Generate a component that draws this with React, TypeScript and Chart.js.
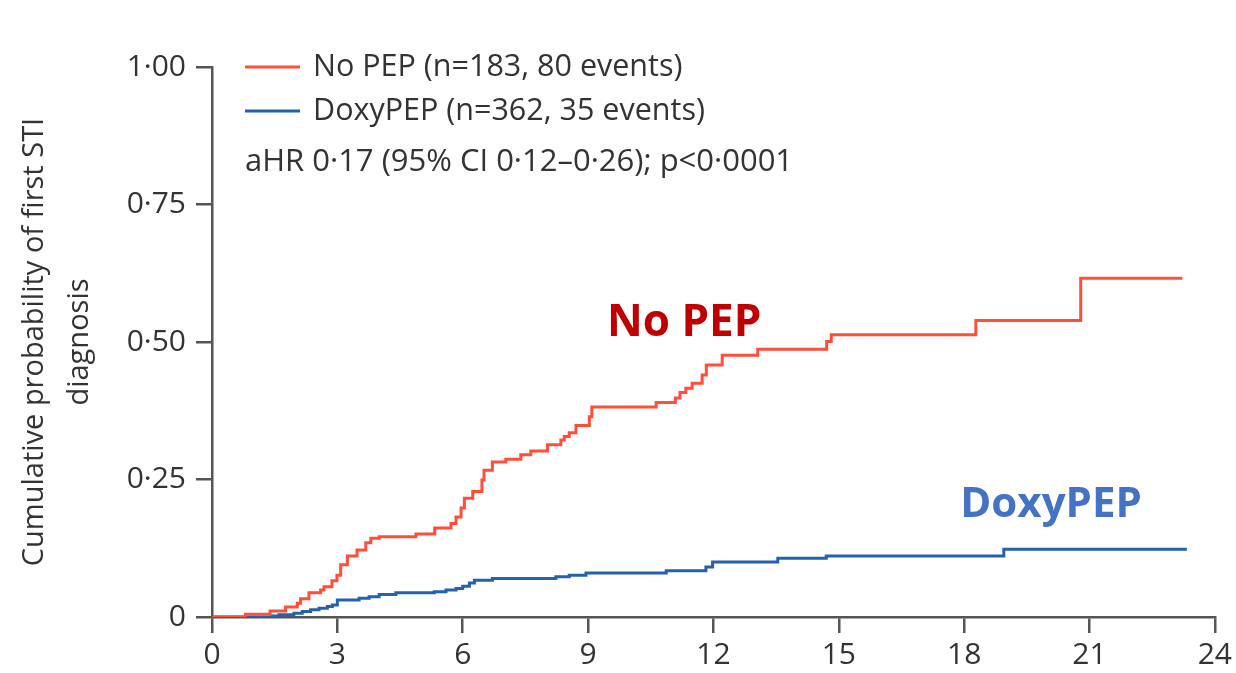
import React, { useEffect, useRef } from "react";
import { Chart, registerables } from "chart.js";

Chart.register(...registerables);

// ---- Data ----
const noPepTimes = [0, 0.8, 1.39, 1.76, 2.04, 2.12, 2.32, 2.6, 2.68, 2.87, 2.99, 3.08, 3.24, 3.47, 3.68, 3.8, 4.0, 4.88, 5.33, 5.72, 5.84, 5.96, 6.04, 6.24, 6.46, 6.51, 6.71, 7.03, 7.39, 7.63, 8.03, 8.35, 8.43, 8.55, 8.71, 9.03, 9.09, 10.63, 11.09, 11.2, 11.34, 11.49, 11.73, 11.83, 12.21, 13.06, 14.71, 14.82, 18.28, 20.79, 23.22];
const noPepValues = [0, 0.005, 0.011, 0.018, 0.025, 0.033, 0.044, 0.049, 0.055, 0.066, 0.076, 0.095, 0.111, 0.122, 0.135, 0.143, 0.146, 0.151, 0.162, 0.17, 0.182, 0.198, 0.216, 0.228, 0.249, 0.267, 0.282, 0.287, 0.295, 0.302, 0.313, 0.322, 0.328, 0.335, 0.348, 0.364, 0.382, 0.39, 0.398, 0.408, 0.416, 0.425, 0.44, 0.458, 0.476, 0.487, 0.501, 0.513, 0.539, 0.616, 0.616];

const doxyTimes = [0, 1.44, 1.6, 1.96, 2.16, 2.36, 2.56, 2.76, 2.88, 3.0, 3.52, 3.76, 4.0, 4.4, 5.32, 5.6, 5.84, 6.0, 6.16, 6.28, 6.71, 8.23, 8.55, 8.95, 10.87, 11.82, 11.98, 13.54, 14.7, 18.95, 23.33];
const doxyValues = [0, 0.002, 0.004, 0.007, 0.01, 0.013, 0.016, 0.019, 0.022, 0.031, 0.034, 0.037, 0.041, 0.044, 0.046, 0.049, 0.052, 0.056, 0.062, 0.067, 0.07, 0.073, 0.076, 0.08, 0.084, 0.091, 0.1, 0.107, 0.111, 0.123, 0.123];

const seriesNames = ["No PEP (n=183, 80 events)", "DoxyPEP (n=362, 35 events)"];
const seriesColors = ["#ff4f38", "#2462ad"];
const annotationText = "aHR 0·17 (95% CI 0·12–0·26); p<0·0001";
const curveLabels = ["No PEP", "DoxyPEP"];
const curveLabelColors = ["#c00000", "#4472c4"];
const curveLabelSizes = [44, 42];
const curveLabelPos = [{ x: 11.3, y: 0.533 }, { x: 20.08, y: 0.203 }];

const yTickValues = [0, 0.25, 0.5, 0.75, 1];
const yTickLabels = ["0", "0·25", "0·50", "0·75", "1·00"];
const xTickStep = 3;
const yTitle = ["Cumulative probability of first STI", "diagnosis"];

const FONT = "'Open Sans', 'DejaVu Sans', sans-serif";
const TEXT_COLOR = "#333333";
const AXIS_COLOR = "#555555";

const overlayPlugin = {
  id: "overlay",
  afterDatasetsDraw(chart: any) {
    const { ctx, chartArea } = chart;
    const xs = chart.scales.x;
    const ys = chart.scales.y;
    ctx.save();
    // legend
    const lx0 = chartArea.left + 33;
    const lx1 = chartArea.left + 88;
    const tx = chartArea.left + 101;
    ctx.font = `30.5px ${FONT}`;
    ctx.textBaseline = "middle";
    ctx.textAlign = "left";
    seriesNames.forEach((name, i) => {
      const y = chartArea.top + i * 44;
      ctx.strokeStyle = seriesColors[i];
      ctx.lineWidth = 3;
      ctx.beginPath();
      ctx.moveTo(lx0, y);
      ctx.lineTo(lx1, y);
      ctx.stroke();
      ctx.fillStyle = TEXT_COLOR;
      ctx.fillText(name, tx, y);
    });
    ctx.font = `31px ${FONT}`;
    ctx.fillStyle = TEXT_COLOR;
    ctx.fillText(annotationText, lx0, chartArea.top + 95);
    // curve labels
    ctx.textAlign = "center";
    curveLabels.forEach((t, i) => {
      ctx.font = `bold ${curveLabelSizes[i]}px ${FONT}`;
      ctx.fillStyle = curveLabelColors[i];
      ctx.fillText(t, xs.getPixelForValue(curveLabelPos[i].x), ys.getPixelForValue(curveLabelPos[i].y));
    });
    ctx.restore();
  },
};

export default function App() {
  const ref = useRef<HTMLCanvasElement | null>(null);
  useEffect(() => {
    if (!ref.current) return;
    const mk = (t: number[], v: number[]) => t.map((x, i) => ({ x, y: v[i] }));
    const chart = new Chart(ref.current, {
      type: "line",
      data: {
        datasets: [
          {
            label: seriesNames[0],
            data: mk(noPepTimes, noPepValues),
            borderColor: seriesColors[0],
            borderWidth: 3,
            stepped: "before",
            pointRadius: 0,
            fill: false,
          },
          {
            label: seriesNames[1],
            data: mk(doxyTimes, doxyValues),
            borderColor: seriesColors[1],
            borderWidth: 3,
            stepped: "before",
            pointRadius: 0,
            fill: false,
          },
        ],
      },
      options: {
        responsive: false,
        animation: false,
        layout: { padding: { top: 67, right: 20, bottom: 0, left: 0 } },
        plugins: { legend: { display: false }, tooltip: { enabled: false } },
        scales: {
          x: {
            type: "linear",
            min: 0,
            max: 24,
            afterFit: (s: any) => { s.height = 56; },
            ticks: {
              stepSize: xTickStep,
              color: TEXT_COLOR,
              font: { family: FONT, size: 30 },
              padding: 4,
              maxRotation: 0,
            },
            grid: { drawOnChartArea: false, color: AXIS_COLOR, lineWidth: 2.5, tickLength: 16 },
            border: { color: AXIS_COLOR, width: 2.5 },
          },
          y: {
            type: "linear",
            min: 0,
            max: 1,
            afterFit: (s: any) => { s.width = 212; },
            afterBuildTicks: (s: any) => { s.ticks = yTickValues.map((v) => ({ value: v })); },
            ticks: {
              color: TEXT_COLOR,
              font: { family: FONT, size: 30 },
              padding: 10,
              callback: (v: any) => {
                const i = yTickValues.indexOf(Number(v));
                return i >= 0 ? yTickLabels[i] : "";
              },
            },
            grid: { drawOnChartArea: false, color: AXIS_COLOR, lineWidth: 2.5, tickLength: 16 },
            border: { color: AXIS_COLOR, width: 2.5 },
            title: {
              display: true,
              text: yTitle,
              color: TEXT_COLOR,
              font: { family: FONT, size: 29, lineHeight: 1.55 },
              padding: { top: 12, bottom: 0 },
            },
          },
        },
      },
      plugins: [overlayPlugin],
    } as any);
    return () => chart.destroy();
  }, []);
  return (
    <div style={{ position: "fixed", left: 0, top: 0, width: 1236, height: 673, background: "#fff" }}>
      <canvas ref={ref} width={1236} height={673} style={{ display: "block" }} />
    </div>
  );
}
